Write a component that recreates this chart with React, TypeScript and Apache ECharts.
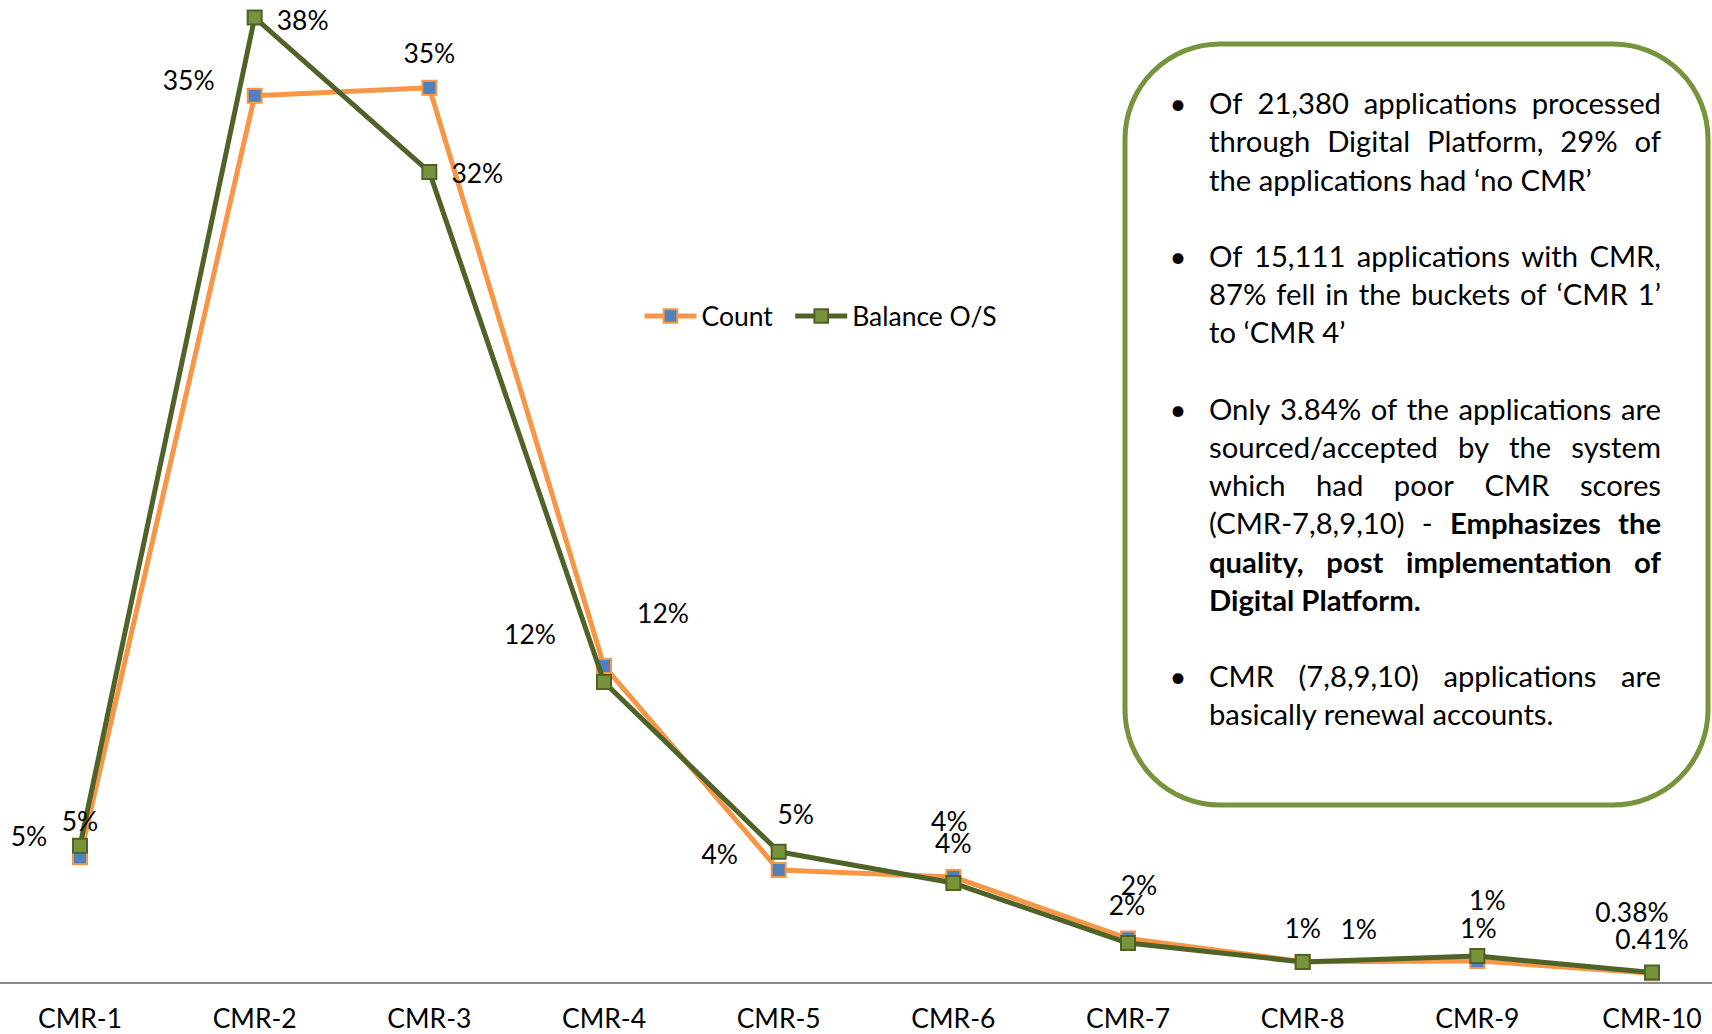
import React, { useEffect, useRef } from "react";
import * as echarts from "echarts";

// ---------- data ----------
const categories = ["CMR-1", "CMR-2", "CMR-3", "CMR-4", "CMR-5", "CMR-6", "CMR-7", "CMR-8", "CMR-9", "CMR-10"];
const seriesNames = ["Count", "Balance O/S"];
const countValues = [4.95, 34.89, 35.21, 12.47, 4.44, 4.17, 1.75, 0.84, 0.87, 0.38];
const balanceValues = [5.4, 37.97, 31.9, 11.84, 5.16, 3.93, 1.57, 0.83, 1.06, 0.41];

// label offsets (pixels, relative to the marker centre)
const countLabelOffsets = [
  [-51, -21], [-66, -16], [0, -35], [-74, -32], [-59, -16],
  [0, -34], [-1, -34], [0, -34], [1, -33], [-20, -61],
];
const balanceLabelOffsets = [
  [0, -25], [48, 2], [48, 1], [59, -69], [17, -38],
  [-4, -62], [11, -58], [56, -33], [10, -56], [0, -34],
];

// note box paragraphs (** marks bold)
const notes = [
  ["Of 21,380 applications processed", "through Digital Platform, 29% of", "the applications had ‘no CMR’"],
  ["Of 15,111 applications with CMR,", "87% fell in the buckets of ‘CMR 1’", "to ‘CMR 4’"],
  [
    "Only 3.84% of the applications are",
    "sourced/accepted by the system",
    "which had poor CMR scores",
    "(CMR-7,8,9,10) - **Emphasizes the**",
    "**quality, post implementation of**",
    "**Digital Platform.**",
  ],
  ["CMR (7,8,9,10) applications are", "basically renewal accounts."],
];

const FONT = "Lato";
const COUNT_LINE = "#F79646";
const COUNT_FILL = "#4F81BD";
const BAL_LINE = "#4F6228";
const BAL_FILL = "#77933C";

function measure(ctx: CanvasRenderingContext2D, text: string, size: number, bold: boolean) {
  ctx.font = `${bold ? "bold " : ""}${size}px ${FONT}`;
  return ctx.measureText(text).width;
}

function parseWords(line: string) {
  const out: { t: string; b: boolean }[] = [];
  let bold = false;
  line.split(" ").forEach((raw) => {
    let w = raw;
    if (w.startsWith("**")) {
      bold = true;
      w = w.slice(2);
    }
    let endBold = false;
    if (w.endsWith("**")) {
      endBold = true;
      w = w.slice(0, -2);
    }
    out.push({ t: w, b: bold });
    if (endBold) bold = false;
  });
  return out;
}

export default function App() {
  const ref = useRef<HTMLDivElement>(null);

  useEffect(() => {
    const el = ref.current;
    if (!el) return;
    const chart = echarts.init(el, null, { renderer: "svg" });

    const canvas = document.createElement("canvas");
    const ctx = canvas.getContext("2d") as CanvasRenderingContext2D;
    const w100 = measure(ctx, "the applications had ‘no CMR’", 100, false);
    const boxSize = (100 * 383) / w100;
    const ratio = boxSize / 31.5;
    const chartSize = 28.5 * ratio;

    // ---- note box graphics ----
    const textLeft = 1209;
    const textRight = 1661;
    const bulletX = 1178;
    const firstY = 102.6;
    const step = 38.2;
    const graphics: any[] = [
      {
        type: "rect",
        silent: true,
        shape: { x: 1125, y: 44, width: 583, height: 761, r: 95 },
        style: { fill: "#ffffff", stroke: BAL_FILL, lineWidth: 5 },
        z: 0,
      },
    ];
    const mkText = (t: string, x: number, y: number, bold: boolean, align = "left") => ({
      type: "text",
      silent: true,
      z: 10,
      style: {
        text: t,
        x,
        y,
        fontSize: boxSize,
        fontFamily: FONT,
        fontWeight: bold ? "bold" : "normal",
        fill: "#000000",
        textAlign: align,
        align,
        textVerticalAlign: "middle",
        verticalAlign: "middle",
      },
    });
    let k = 0;
    notes.forEach((para, pi) => {
      if (pi > 0) k += 1;
      para.forEach((line, li) => {
        const y = firstY + k * step;
        if (li === 0) graphics.push(mkText("•", bulletX, y, false, "center"));
        const words = parseWords(line);
        const justify = li < para.length - 1;
        if (justify) {
          const widths = words.map((w) => measure(ctx, w.t, boxSize, w.b));
          const sum = widths.reduce((a, b) => a + b, 0);
          const gap = (textRight - textLeft - sum) / (words.length - 1);
          let x = textLeft;
          words.forEach((w, i) => {
            graphics.push(mkText(w.t, x, y, w.b));
            x += widths[i] + gap;
          });
        } else {
          const bold = words[0].b;
          graphics.push(mkText(words.map((w) => w.t).join(" "), textLeft, y, bold));
        }
        k++;
      });
    });

    const fmt = (p: any) => {
      const v = Number(p.value);
      return (v < 0.5 ? v.toFixed(2) : String(Math.round(v))) + "%";
    };

    const mkData = (vals: number[], offs: number[][]) =>
      vals.map((v, i) => ({ value: v, label: { offset: offs[i] } }));

    const labelStyle = {
      show: true,
      position: "inside",
      formatter: fmt,
      color: "#000000",
      fontSize: chartSize,
      fontFamily: FONT,
    };

    chart.setOption({
      animation: false,
      backgroundColor: "#ffffff",
      textStyle: { fontFamily: FONT },
      grid: [
        { left: 80, right: 60, top: 0, bottom: 51, containLabel: false },
        { left: 0, right: 0, top: 0, bottom: 51, containLabel: false },
      ],
      legend: {
        left: 637,
        top: 298,
        itemWidth: 52,
        itemHeight: 17,
        itemGap: 20,
        lineStyle: { width: 5 },
        textStyle: { fontSize: chartSize, fontFamily: FONT, color: "#000000" },
        data: seriesNames,
      },
      xAxis: [
        {
          type: "category",
          gridIndex: 0,
          data: categories,
          boundaryGap: false,
          axisLine: { show: false },
          axisTick: { show: false },
          axisLabel: {
            color: "#000000",
            fontSize: chartSize,
            fontFamily: FONT,
            margin: 22,
            lineHeight: Math.round(chartSize),
          },
          splitLine: { show: false },
        },
        {
          type: "category",
          gridIndex: 1,
          data: categories,
          axisLine: { show: true, lineStyle: { color: "#898989", width: 2 } },
          axisTick: { show: false },
          axisLabel: { show: false },
          splitLine: { show: false },
        },
      ],
      yAxis: [
        { type: "value", gridIndex: 0, min: 0, max: 38.66, show: false, splitLine: { show: false } },
        { type: "value", gridIndex: 1, min: 0, max: 40, show: false, splitLine: { show: false } },
      ],
      graphic: graphics,
      series: [
        {
          name: seriesNames[0],
          type: "line",
          data: mkData(countValues, countLabelOffsets),
          symbol: "rect",
          symbolSize: 14,
          lineStyle: { color: COUNT_LINE, width: 5 },
          itemStyle: { color: COUNT_FILL, borderColor: COUNT_LINE, borderWidth: 2 },
          label: labelStyle,
          z: 2,
        },
        {
          name: seriesNames[1],
          type: "line",
          data: mkData(balanceValues, balanceLabelOffsets),
          symbol: "rect",
          symbolSize: 14,
          lineStyle: { color: BAL_LINE, width: 5 },
          itemStyle: { color: BAL_FILL, borderColor: BAL_LINE, borderWidth: 2 },
          label: labelStyle,
          z: 3,
        },
      ],
    });

    return () => {
      chart.dispose();
    };
  }, []);

  return (
    <div
      ref={ref}
      style={{ position: "fixed", left: 0, top: 0, width: 1712, height: 1034, background: "#ffffff" }}
    />
  );
}
